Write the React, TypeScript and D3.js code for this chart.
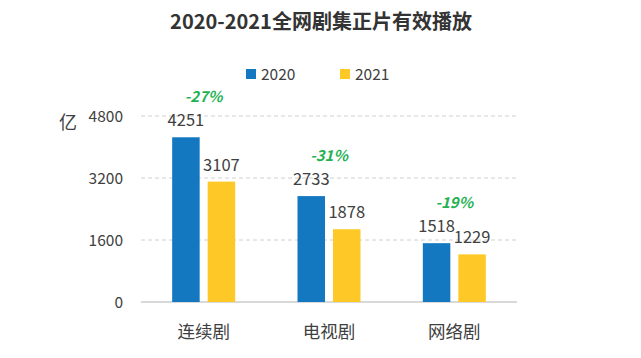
import React from "react";
import * as d3 from "d3";

const categories = ["连续剧", "电视剧", "网络剧"];
const seriesNames = ["2020", "2021"];
const values2020 = [4251, 2733, 1518];
const values2021 = [3107, 1878, 1229];
const changeLabels = ["-27%", "-31%", "-19%"];
const yTicks = [0, 1600, 3200, 4800];
const colors = ["#1478c1", "#fec926"];

const W = 641;
const H = 358;
const FONT = "'Noto Sans CJK SC', 'Noto Sans', sans-serif";

export default function App() {
  const left = 141;
  const right = 517;
  const x = d3.scaleBand<string>().domain(categories).range([left, right]).padding(0);
  const y = d3.scaleLinear().domain([0, 4800]).range([302, 116]);
  const barW = 27.5;
  const gap = 8;
  const series = [values2020, values2021];

  return (
    <svg width={W} height={H} style={{ position: "absolute", left: 0, top: 0 }} fontFamily={FONT}>
      <rect width={W} height={H} fill="#fff" />
      <text x={321} y={29} textAnchor="middle" fontSize={20} fontWeight="bold" fill="#333">
        2020-2021全网剧集正片有效播放
      </text>
      {/* legend */}
      {seriesNames.map((s, i) => (
        <g key={s} transform={`translate(${246 + i * 94},0)`}>
          <rect x={0} y={69} width={10} height={10} fill={colors[i]} />
          <text x={15} y={80} fontSize={15.5} fill="#404040">{s}</text>
        </g>
      ))}
      {/* grid */}
      {yTicks.map((t) => (
        <g key={t}>
          {t === 0 ? (
            <line x1={left} x2={right} y1={y(t)} y2={y(t)} stroke="#d9d9d9" strokeWidth={2} />
          ) : (
            <line x1={left} x2={right} y1={y(t)} y2={y(t)} stroke="#d0d0d0" strokeWidth={1} strokeDasharray="4,3" />
          )}
          <text x={123} y={y(t) + 5.5} textAnchor="end" fontSize={15.5} fill="#404040">{t}</text>
        </g>
      ))}
      <text x={59} y={129} fontSize={18} fill="#404040">亿</text>
      {/* bars */}
      {categories.map((c, ci) => {
        const cx = (x(c) as number) + x.bandwidth() / 2;
        const groupW = barW * 2 + gap;
        const x0 = cx - groupW / 2;
        return (
          <g key={c}>
            {series.map((vals, si) => {
              const bx = x0 + si * (barW + gap);
              return (
                <g key={si}>
                  <rect x={bx} y={y(vals[ci])} width={barW} height={y(0) - y(vals[ci])} fill={colors[si]} />
                  <text x={bx + barW / 2} y={y(vals[ci]) - 11} textAnchor="middle" fontSize={16.5} fill="#404040">
                    {vals[ci]}
                  </text>
                </g>
              );
            })}
            <text
              x={cx}
              y={y(values2020[ci]) - 35}
              textAnchor="middle"
              fontSize={15}
              fontWeight="bold"
              fontStyle="italic"
              fill="#1fb253"
            >
              {changeLabels[ci]}
            </text>
            <text x={cx} y={338} textAnchor="middle" fontSize={17.5} fill="#404040">{c}</text>
          </g>
        );
      })}
    </svg>
  );
}
